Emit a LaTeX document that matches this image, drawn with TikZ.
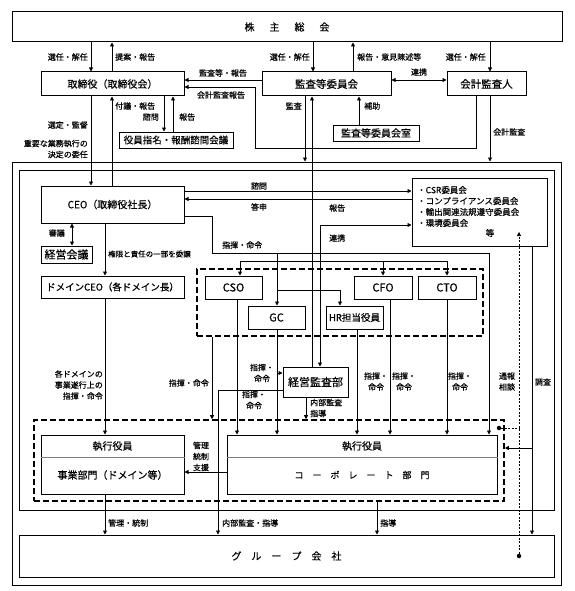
\documentclass[tikz,border=0pt]{standalone}
\usepackage{fontspec}
\setmainfont{Noto Sans CJK JP}[FakeBold=0.4]
\usetikzlibrary{arrows.meta}
\tikzset{
  box/.style={draw, line width=1pt, inner sep=0pt, font=\fontsize{10}{12}\selectfont},
  frame/.style={draw, line width=1pt, inner sep=0pt},
  dbox/.style={draw, line width=1.6pt, dash pattern=on 6pt off 3pt, inner sep=0pt},
  lab/.style={inner sep=0pt, font=\fontsize{8}{11}\selectfont},
  conn/.style={line width=0.8pt},
  arr/.style={conn, -{Triangle[length=4pt,width=4pt]}},
  arrb/.style={conn, {Triangle[length=4pt,width=4pt]}-{Triangle[length=4pt,width=4pt]}},
  dsh/.style={line width=0.6pt, dash pattern=on 2pt off 1.5pt},
  dot/.style={circle, fill, inner sep=0pt, minimum size=4.5pt},
}
\begin{document}
\begin{tikzpicture}[x=1pt,y=-1pt]
\fill[white] (0,0) rectangle (574,591);
\useasboundingbox (0,0) rectangle (574,591);

% frames
\node[frame, minimum width=549pt, minimum height=423pt] (outer) at (286.5,373.5) {};
\node[frame, minimum width=535pt, minimum height=340pt] (inner) at (286.5,340) {};
\node[dbox, minimum width=286pt, minimum height=67pt] (d1) at (340,302.5) {};
\node[dbox, minimum width=470pt, minimum height=81pt] (d2) at (269,460.5) {};

% boxes
\node[box, minimum width=550pt, minimum height=30pt] (sh) at (287,27) {株\hspace{15pt}主\hspace{15pt}総\hspace{15pt}会};
\node[box, minimum width=143pt, minimum height=24pt] (tori) at (112.5,84) {取締役（取締役会）};
\node[box, minimum width=129pt, minimum height=24pt, font=\fontsize{10.5}{12}\selectfont] (kansa) at (326.5,84) {監査等委員会};
\node[box, minimum width=79pt, minimum height=24pt, font=\fontsize{10.5}{12}\selectfont] (kaikei) at (486.5,84) {会計監査人};
\node[box, minimum width=114pt, minimum height=16pt, font=\fontsize{9.5}{11}\selectfont] (shimon) at (176,140) {役員指名・報酬諮問会議};
\node[box, minimum width=86pt, minimum height=16pt] (kshitsu) at (376,133) {監査等委員会室};
\node[box, minimum width=143pt, minimum height=37pt] (ceo) at (112.5,204.5) {CEO（取締役社長）};
\node[box, minimum width=135pt, minimum height=68pt] (iinkai) at (479.5,212) {};
\node[box, minimum width=51pt, minimum height=17pt, font=\fontsize{11}{12}\selectfont] (keiei) at (66.5,254.5) {経営会議};
\node[box, minimum width=143pt, minimum height=22pt, font=\fontsize{9.5}{12}\selectfont] (dceo) at (112.5,287) {ドメインCEO（各ドメイン長）};
\node[box, minimum width=57pt, minimum height=23pt, font=\fontsize{11}{12}\selectfont] (cso) at (233.5,287.5) {CSO};
\node[box, minimum width=58pt, minimum height=23pt, font=\fontsize{11}{12}\selectfont] (cfo) at (383,287.5) {CFO};
\node[box, minimum width=58pt, minimum height=23pt, font=\fontsize{11}{12}\selectfont] (cto) at (447,287.5) {CTO};
\node[box, minimum width=57pt, minimum height=23pt, font=\fontsize{11}{12}\selectfont] (gc) at (276.5,317.5) {GC};
\node[box, minimum width=57pt, minimum height=23pt, font=\fontsize{9.5}{12}\selectfont] (hr) at (354.5,317.5) {HR担当役員};
\node[box, minimum width=65pt, minimum height=30pt, font=\fontsize{11}{12}\selectfont] (kkb) at (315.5,382) {経営監査部};
\node[box, minimum width=143pt, minimum height=59pt] (jigyo) at (112.5,464.5) {};
\node[box, minimum width=270pt, minimum height=59pt] (corp) at (362,464.5) {};
\node[box, minimum width=535pt, minimum height=42pt] (group) at (286.5,556) {グ　ル　ー　プ　会　社};

% texts inside split boxes
\draw[gray, line width=0.5pt] (jigyo.west |- 0,457) -- (jigyo.east |- 0,457);
\draw[gray, line width=0.5pt] (corp.west |- 0,457) -- (corp.east |- 0,457);
\node[inner sep=0pt, font=\fontsize{10}{12}\selectfont] (jt1) at (112.5,446) {執行役員};
\node[inner sep=0pt, font=\fontsize{10}{12}\selectfont] (jt2) at (112.5,475) {事業部門（ドメイン等）};
\node[inner sep=0pt, font=\fontsize{10}{12}\selectfont] (ct1) at (362,446) {執行役員};
\node[inner sep=0pt, font=\fontsize{9}{12}\selectfont] (ct2) at (362,475) {コ　ー　ポ　レ　ー　ト　部　門};

% committee text
\node[lab, anchor=west, font=\fontsize{8.5}{11}\selectfont] (c1) at (417,190) {・CSR委員会};
\node[lab, anchor=west, font=\fontsize{8.5}{11}\selectfont] (c2) at (417,201) {・コンプライアンス委員会};
\node[lab, anchor=west, font=\fontsize{8.5}{11}\selectfont] (c3) at (417,212) {・輸出関連法規遵守委員会};
\node[lab, anchor=west, font=\fontsize{8.5}{11}\selectfont] (c4) at (417,223) {・環境委員会};
\node[lab, font=\fontsize{8.5}{11}\selectfont] (c5) at (490,233) {等};

% ---- connectors: top
\draw[arr] (91,0 |- sh.south) -- (91,0 |- tori.north);
\draw[arr] (112,0 |- tori.north) -- (112,0 |- sh.south);
\draw[arr] (313,0 |- sh.south) -- (313,0 |- kansa.north);
\draw[arr] (353,0 |- kansa.north) -- (353,0 |- sh.south);
\draw[arr] (490,0 |- sh.south) -- (490,0 |- kaikei.north);
\draw[arrb] (kansa.east |- 0,80) -- (kaikei.west |- 0,80);
\draw[arr] (kansa.west |- 0,80) -- (tori.east |- 0,80);
\draw[arr] (476,0 |- kaikei.south) -- (476,148) -- (255,148) -- (255,87) -- (tori.east |- 0,87);
\draw[arr] (490,0 |- kaikei.south) -- (490,0 |- outer.north);
\draw[arr] (305,0 |- kansa.south) -- (305,0 |- outer.north);
\draw[arr] (359,0 |- kshitsu.north) -- (359,0 |- kansa.south);
\draw[arr] (164,0 |- tori.south) -- (164,0 |- shimon.north);
\draw[arr] (173,0 |- shimon.north) -- (173,0 |- tori.south);
\draw[arr] (91,0 |- tori.south) -- (91,0 |- ceo.north);
\draw[arr] (112,0 |- ceo.north) -- (112,0 |- tori.south);

% ---- CEO level
\draw[arr] (ceo.east |- 0,191) -- (iinkai.west |- 0,191);
\draw[arr] (iinkai.west |- 0,199) -- (ceo.east |- 0,199);
\draw[arr] (312,0 |- kkb.north) -- (312,0 |- kansa.south);
\draw[arrb] (iinkai.west |- 0,225) -- (320,225) -- (320,0 |- kkb.north);
\draw[arrb] (72,0 |- ceo.south) -- (72,0 |- keiei.north);
\draw[arr] (105,0 |- ceo.south) -- (105,0 |- dceo.north);
\draw[arr] (ceo.east |- 0,216) -- (212,216) -- (212,253) -- (489,253) -- (489,0 |- corp.north);
\draw[arr] (277,253) -- (277,0 |- gc.north);
\draw[conn] (240,261) -- (447,261);
\draw[arr] (240,261) -- (240,0 |- cso.north);
\draw[arr] (383,261) -- (383,0 |- cfo.north);
\draw[arr] (447,261) -- (447,0 |- cto.north);
\draw[arr] (277,290) -- (340,290) -- (340,0 |- hr.north);

% ---- middle
\draw[arr] (212,0 |- d1.south) -- (212,0 |- d2.north);
\draw[arr] (237,0 |- cso.south) -- (237,0 |- corp.north);
\draw[arr] (277,0 |- gc.south) -- (277,0 |- corp.north);
\draw[arr] (277,373) -- (kkb.west |- 0,373);
\draw[arr] (kkb.west |- 0,390) -- (218,390) -- (218,0 |- group.north);
\draw[arr] (306,0 |- kkb.south) -- (306,0 |- d2.north);
\draw[arr] (357,0 |- hr.south) -- (357,0 |- corp.north);
\draw[arr] (390,0 |- cfo.south) -- (390,0 |- corp.north);
\draw[arr] (447,0 |- cto.south) -- (447,0 |- corp.north);
\draw[arr] (105,0 |- dceo.south) -- (105,0 |- jigyo.north);
\draw[arr] (corp.west |- 0,472) -- (jigyo.east |- 0,472);
\draw[arr] (105,0 |- jigyo.south) -- (105,0 |- group.north);
\draw[arr] (377,0 |- d2.south) -- (377,0 |- group.north);
\draw[arr] (532,0 |- iinkai.south) -- (532,0 |- group.north);
\draw[arr] (532,448) -- (d2.east |- 0,448);

% dashed report line
\node[dot] (p1) at (519,556) {};
\node[dot] (p2) at (499,428) {};
\coordinate (tsu) at (519,232);
\draw[dsh, -{Triangle[length=4pt,width=4pt]}] (p1) -- (tsu);
\draw[dsh] (p2) -- (p2 -| p1);

% ---- labels
\node[lab, anchor=east] (l1) at (88,57) {選任・解任};
\node[lab, anchor=west] (l2) at (115,57) {提案・報告};
\node[lab, anchor=east] (l3) at (310,57) {選任・解任};
\node[lab, anchor=west] (l4) at (357,57) {報告・意見陳述等};
\node[lab, anchor=east] (l5) at (486,57) {選任・解任};
\node[lab] (l6) at (419,72) {連携};
\node[lab] (l7) at (223,73) {監査等・報告};
\node[lab] (l8) at (221,95) {会計監査報告};
\node[lab, anchor=west] (l9) at (115,106) {付議・報告};
\node[lab, anchor=east] (l10) at (159,117) {諮問};
\node[lab, anchor=west] (l11) at (179,117) {報告};
\node[lab, anchor=east] (l12) at (88,125) {選定・監督};
\node[lab, anchor=east, align=right] (l13) at (88,149) {重要な業務執行の\\決定の委任};
\node[lab, anchor=east] (l14) at (302,106) {監査};
\node[lab, anchor=west] (l15) at (364,106) {補助};
\node[lab, anchor=west] (l16) at (493,132) {会計監査};
\node[lab] (l17) at (259,186) {諮問};
\node[lab] (l18) at (259,207) {答申};
\node[lab, anchor=west] (l19) at (329,208) {報告};
\node[lab, anchor=west] (l20) at (329,238) {連携};
\node[lab, anchor=east] (l21) at (65,233) {審議};
\node[lab, anchor=west, font=\fontsize{7.5}{10}\selectfont] (l22) at (108,254) {権限と責任の一部を委譲};
\node[lab, anchor=west] (l23) at (222,245) {指揮・命令};
\node[lab, anchor=east, align=right] (l24) at (103,385) {各ドメインの\\事業遂行上の\\指揮・命令};
\node[lab, anchor=east] (l25) at (209,383) {指揮・命令};
\node[lab, align=center] (l26) at (262,373) {指揮・\\命令};
\node[lab, align=center] (l27) at (254,400) {指揮・\\命令};
\node[lab, anchor=west, align=left] (l28) at (310,408) {内部監査\\指導};
\node[lab, align=center] (l29) at (376,381.5) {指揮・\\命令};
\node[lab, align=center] (l30) at (404,381.5) {指揮・\\命令};
\node[lab, align=center] (l31) at (460,381.5) {指揮・\\命令};
\node[lab, align=center] (l32) at (507,381.5) {通報\\相談};
\node[lab] (l33) at (543,382) {調査};
\node[lab, align=center] (l34) at (201,456.5) {管理\\統制\\支援};
\node[lab, anchor=west] (l35) at (108,523) {管理・統制};
\node[lab, anchor=west] (l36) at (222,523) {内部監査・指導};
\node[lab, anchor=west] (l37) at (380,523) {指導};
\end{tikzpicture}
\end{document}
